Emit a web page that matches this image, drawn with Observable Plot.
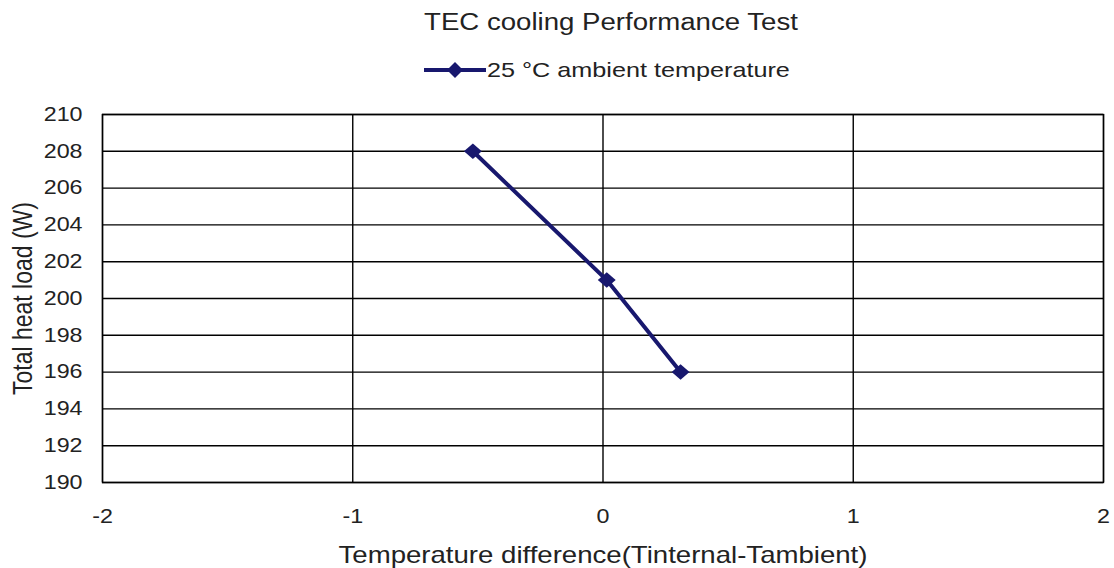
<!DOCTYPE html>
<html>
<head>
<meta charset="utf-8">
<script src="https://cdn.jsdelivr.net/npm/d3@7"></script>
<script src="https://cdn.jsdelivr.net/npm/@observablehq/plot@0.6"></script>
<style>
  body { margin: 0; background: #fff; font-family: "Liberation Sans", Arial, sans-serif; color: #222; }
  #header { position: relative; width: 1114px; height: 96px; }
  #title { position: absolute; left: 611px; top: 9px; font-size: 23px; line-height: 26px; white-space: nowrap; transform: translateX(-50%) scaleX(1.2); transform-origin: center; }
  #legend-sw { position: absolute; left: 424px; top: 60px; }
  #legend-tx { position: absolute; left: 487px; top: 58px; font-size: 21px; line-height: 24px; white-space: nowrap; transform: scaleX(1.2); transform-origin: left center; }
</style>
</head>
<body>
<div id="header">
  <div id="title"></div>
  <svg id="legend-sw" width="64" height="20"></svg>
  <div id="legend-tx"></div>
</div>
<div id="chart"></div>
<script>
const seriesName = "25 °C ambient temperature";
const chartTitle = "TEC cooling Performance Test";
const xLabel = "Temperature difference(Tinternal-Tambient)";
const yLabel = "Total heat load (W)";
const tempDiff = [-0.52, 0.015, 0.31];
const heatLoad = [208, 201, 196];
const xTicks = [-2, -1, 0, 1, 2];
const yTicks = [190, 192, 194, 196, 198, 200, 202, 204, 206, 208, 210];
const lineColor = "#18186e";

const data = tempDiff.map((t, i) => ({x: t, y: heatLoad[i]}));

document.getElementById("title").textContent = chartTitle;
document.getElementById("legend-tx").textContent = seriesName;
document.getElementById("legend-sw").innerHTML =
  `<line x1="0" y1="10" x2="62" y2="10" stroke="${lineColor}" stroke-width="4"/>` +
  `<path d="M31,2 L39,10 L31,18 L23,10 Z" fill="${lineColor}"/>`;

const chart = Plot.plot({
  width: 1114,
  height: 472,
  marginTop: 18,
  marginBottom: 86,
  marginLeft: 102,
  marginRight: 11,
  style: {fontFamily: "'Liberation Sans', Arial, sans-serif", fontSize: "19.4px", color: "#222", background: "#fff"},
  x: {domain: [-2, 2], ticks: xTicks},
  y: {domain: [190, 210], ticks: yTicks},
  marks: [
    Plot.gridY(yTicks, {stroke: "#000", strokeOpacity: 1, strokeWidth: 1.4}),
    Plot.gridX(xTicks, {stroke: "#000", strokeOpacity: 1, strokeWidth: 1.4}),
    Plot.frame({stroke: "#000", strokeWidth: 1.4}),
    Plot.axisY(yTicks, {tickSize: 0, tickPadding: 20, tickFormat: d => String(d), fontSize: "19.4px",
      label: yLabel, labelAnchor: "center", labelArrow: "none", labelOffset: 90}),
    Plot.axisX(xTicks, {tickSize: 0, tickPadding: 27, tickFormat: d => String(d), fontSize: "19.4px",
      label: xLabel, labelAnchor: "center", labelArrow: "none", labelOffset: 80}),
    Plot.line(data, {x: "x", y: "y", stroke: lineColor, strokeWidth: 4}),
    Plot.dot(data, {x: "x", y: "y", symbol: "diamond2", r: 7, fill: lineColor, stroke: "none"})
  ]
});

// Axis titles a bit larger than tick labels
chart.querySelectorAll("g[aria-label='y-axis label'] text, g[aria-label='x-axis label'] text")
  .forEach(t => t.setAttribute("font-size", "23px"));
// The reference's text and markers are stretched horizontally
chart.querySelectorAll("text").forEach(t => {
  const tr = t.getAttribute("transform") || "";
  if (tr.includes("rotate(")) t.setAttribute("transform", tr + " scale(1,1.2)");
  else t.setAttribute("transform", tr + " scale(1.2,1)");
});
chart.querySelectorAll("g[aria-label='dot'] path").forEach(p => {
  const tr = p.getAttribute("transform") || "";
  p.setAttribute("transform", tr + " scale(1.15,1)");
});
document.getElementById("chart").appendChild(chart);
</script>
</body>
</html>
